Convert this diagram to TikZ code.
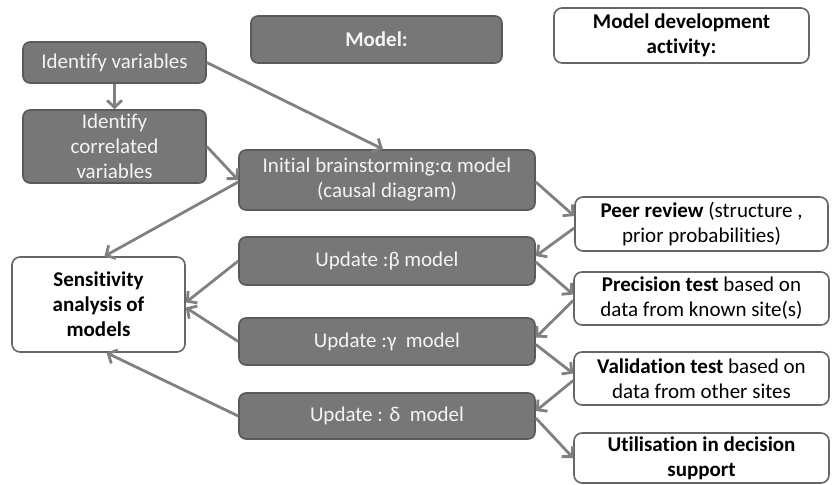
\documentclass[tikz,border=0pt]{standalone}
\usepackage{fontspec}
\setmainfont[Ligatures=NoCommon]{Carlito}
\usetikzlibrary{arrows.meta}
\definecolor{darkbox}{HTML}{777777}
\definecolor{darkedge}{HTML}{5A5A5A}
\definecolor{lightedge}{HTML}{666666}
\definecolor{arrowgrey}{HTML}{808080}
\definecolor{boxtext}{HTML}{F4F4F4}
\begin{document}
\begin{tikzpicture}[x=1pt,y=-1pt,
  every node/.style={font=\fontsize{21}{25}\selectfont, align=center, inner sep=1pt},
  dbox/.style={draw=darkedge, line width=1.6pt, fill=darkbox, text=boxtext, rounded corners=7pt},
  wbox/.style={draw=lightedge, line width=1.6pt, fill=white, text=black, rounded corners=8pt},
  conn/.style={draw=arrowgrey, line width=2.8pt, -{Straight Barb[length=7pt,width=15pt]}},
]
\useasboundingbox (0,0) rectangle (834,484);

\node[dbox, minimum width=251pt, minimum height=47pt] (model) at (376.5,39.5) {\textbf{Model:}};
\node[wbox, minimum width=255pt, minimum height=55pt] (mda) at (681.5,35.5) {\textbf{Model development}\\\textbf{activity:}};

\node[dbox, minimum width=183pt, minimum height=41pt] (iv) at (114.5,62.5) {Identify variables};
\node[dbox, minimum width=183pt, minimum height=73pt] (icv) at (114.5,146.5) {Identify\\correlated\\variables};
\node[dbox, minimum width=296pt, minimum height=60pt] (ib) at (387,180) {Initial brainstorming:α model\\(causal diagram)};
\node[wbox, minimum width=173pt, minimum height=95pt] (sens) at (98.5,304.5) {\textbf{Sensitivity}\\\textbf{analysis of}\\\textbf{models}};
\node[dbox, minimum width=296pt, minimum height=48pt] (beta) at (387,261) {Update :β model};
\node[dbox, minimum width=296pt, minimum height=47pt] (gamma) at (387,341.5) {Update :γ \ model};
\node[dbox, minimum width=296pt, minimum height=46pt] (delta) at (387,416) {Update : δ \ model};

\node[wbox, minimum width=253pt, minimum height=54pt] (peer) at (701.5,224) {\textbf{Peer review} (structure ,\\prior probabilities)};
\node[wbox, minimum width=255pt, minimum height=53pt] (prec) at (701.5,298.5) {\textbf{Precision test} based on\\data from known site(s)};
\node[wbox, minimum width=255pt, minimum height=53pt] (val) at (701.5,378.5) {\textbf{Validation test} based on\\data from other sites};
\node[wbox, minimum width=255pt, minimum height=50pt] (util) at (701.5,458) {\textbf{Utilisation in decision}\\\textbf{support}};

\draw[conn] (iv.south) -- (icv.north);
\draw[conn] (iv.east) -- ([xshift=-4pt]ib.north);
\draw[conn] (icv.east) -- (ib.west);
\draw[conn] ([yshift=-2pt]ib.west) -- ([xshift=6pt]sens.north);
\draw[conn] (beta.west) -- ([yshift=2pt]sens.east);
\draw[conn] (gamma.west) -- ([yshift=-3pt]sens.east);
\draw[conn] (delta.west) -- ([xshift=8pt]sens.south);

\draw[conn] ([yshift=-2pt]ib.east) -- ([yshift=8pt]peer.west);
\draw[conn] ([yshift=-4pt]peer.west) -- ([yshift=5pt]beta.east);
\draw[conn] ([yshift=-1pt]beta.east) -- ([yshift=4pt]prec.west);
\draw[conn] ([yshift=-2pt]prec.west) -- ([yshift=4pt]gamma.east);
\draw[conn] ([yshift=-3pt]gamma.east) -- ([yshift=5pt]val.west);
\draw[conn] ([yshift=-2pt]val.west) -- ([yshift=5pt]delta.east);
\draw[conn] ([yshift=-2pt]delta.east) -- (util.west);
\end{tikzpicture}
\end{document}
